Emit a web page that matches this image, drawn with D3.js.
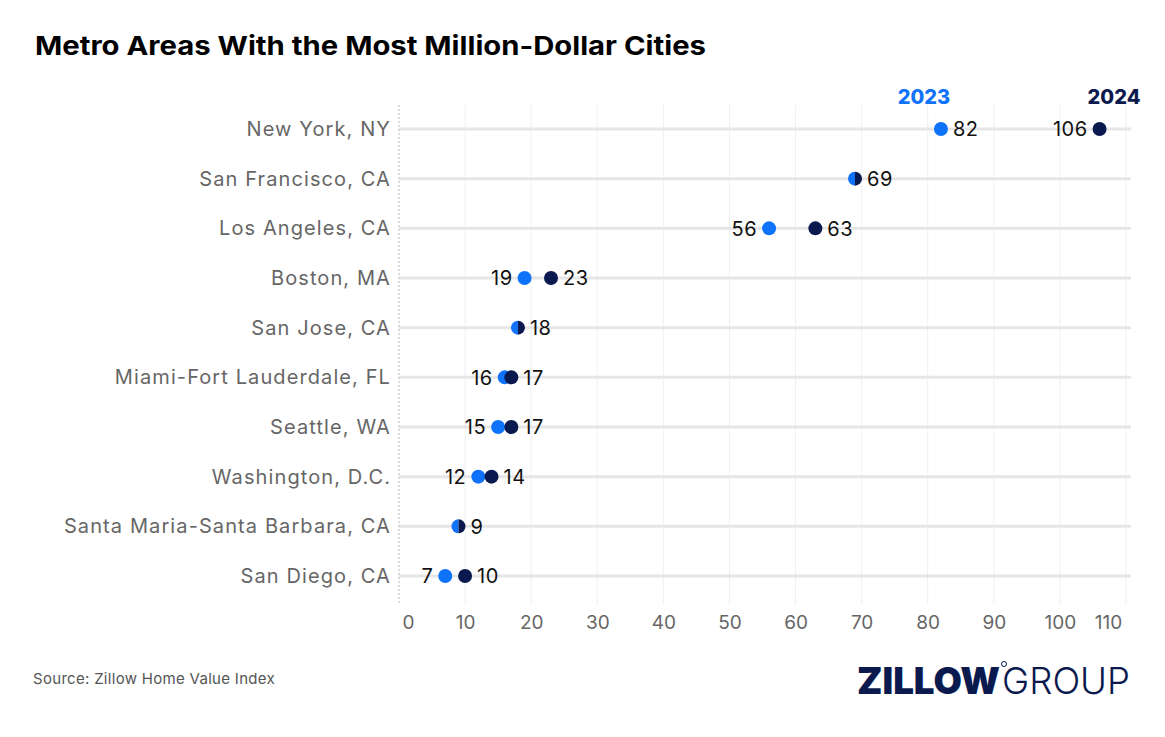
<!DOCTYPE html>
<html>
<head>
<meta charset="utf-8">
<script src="https://cdn.jsdelivr.net/npm/d3@7"></script>
<style>
  body { margin: 0; background: #fff; }
  text { font-family: Inter, "Noto Sans", sans-serif; }
</style>
</head>
<body>
<script>
// data
var metros = ["New York, NY", "San Francisco, CA", "Los Angeles, CA", "Boston, MA", "San Jose, CA",
    "Miami-Fort Lauderdale, FL", "Seattle, WA", "Washington, D.C.", "Santa Maria-Santa Barbara, CA", "San Diego, CA"];
var v2023 = [82, 69, 56, 19, 18, 16, 15, 12, 9, 7];
var v2024 = [106, 69, 63, 23, 18, 17, 17, 14, 9, 10];
var xTicks = [0, 10, 20, 30, 40, 50, 60, 70, 80, 90, 100, 110];
var years = ["2023", "2024"];

var w = 1165, h = 737;
var blue = "#0f72fb", navy = "#0a1a4f";

var svg = d3.select("body").append("svg")
    .attr("width", w)
    .attr("height", h);

var x = d3.scaleLinear().domain([0, 110]).range([399, 1126]);
var y = d3.scalePoint().domain(metros).range([129, 576]);

// vertical grid
svg.append("g").selectAll("line")
    .data(xTicks.slice(1))
    .enter().append("line")
    .attr("x1", function (d) { return x(d); })
    .attr("x2", function (d) { return x(d); })
    .attr("y1", 105)
    .attr("y2", 605)
    .style("stroke", "#f0f0f0")
    .style("stroke-width", 1);

// horizontal row lines
svg.append("g").selectAll("line")
    .data(metros)
    .enter().append("line")
    .attr("x1", 399)
    .attr("x2", 1131)
    .attr("y1", function (d) { return y(d); })
    .attr("y2", function (d) { return y(d); })
    .style("stroke", "#e6e6e6")
    .style("stroke-width", 3);

// dotted left axis
svg.append("line")
    .attr("x1", 399).attr("x2", 399)
    .attr("y1", 105).attr("y2", 605)
    .style("stroke", "#cfcfcf")
    .style("stroke-width", 1.5)
    .style("stroke-dasharray", "2,2");

// x axis labels
var xAxis = svg.append("g")
    .attr("transform", "translate(0,615)")
    .call(d3.axisBottom(x).tickValues(xTicks).tickSize(0).tickPadding(0));
xAxis.select(".domain").remove();
xAxis.selectAll("text")
    .style("font-size", "19px")
    .style("fill", "#666")
    .attr("dy", "0.71em")
    .attr("dx", function (d) { return d === 0 ? 9 : (d === 110 ? -18 : 0); });

// y labels
svg.append("g").selectAll("text")
    .data(metros)
    .enter().append("text")
    .attr("x", 391)
    .attr("y", function (d) { return y(d); })
    .attr("dy", "0.35em")
    .attr("text-anchor", "end")
    .style("font-size", "20px")
    .style("letter-spacing", "1.1px")
    .style("fill", "#666")
    .text(function (d) { return d; });

var r = 7;
var rows = metros.map(function (m, i) { return { m: m, a: v2023[i], b: v2024[i] }; });

var dots = svg.append("g");
rows.forEach(function (d) {
    var cy = y(d.m);
    if (d.a === d.b) {
        // half and half circle
        var cx = x(d.a);
        dots.append("path")
            .attr("d", d3.arc()({ innerRadius: 0, outerRadius: r, startAngle: Math.PI, endAngle: 2 * Math.PI }))
            .attr("transform", "translate(" + cx + "," + cy + ")")
            .style("fill", blue);
        dots.append("path")
            .attr("d", d3.arc()({ innerRadius: 0, outerRadius: r, startAngle: 0, endAngle: Math.PI }))
            .attr("transform", "translate(" + cx + "," + cy + ")")
            .style("fill", navy);
    } else {
        dots.append("circle").attr("cx", x(d.a)).attr("cy", cy).attr("r", r).style("fill", blue);
        dots.append("circle").attr("cx", x(d.b)).attr("cy", cy).attr("r", r).style("fill", navy);
    }
});

// value labels
var labels = svg.append("g");
function label(v, cy, side) {
    labels.append("text")
        .attr("x", side > 0 ? x(v) + 12 : x(v) - 12)
        .attr("y", cy)
        .attr("dy", "0.36em")
        .attr("text-anchor", side > 0 ? "start" : "end")
        .style("font-size", "20px")
        .style("letter-spacing", "0.5px")
        .style("fill", "#111")
        .text(v);
}
rows.forEach(function (d) {
    var cy = y(d.m);
    if (d.a === d.b) {
        label(d.b, cy, 1);
    } else if (d.b - d.a > 15) {
        // far apart: labels sit between the dots
        label(d.a, cy, 1);
        label(d.b, cy, -1);
    } else {
        label(d.a, cy, -1);
        label(d.b, cy, 1);
    }
});

// legend
svg.selectAll(".year")
    .data(years)
    .enter().append("text")
    .attr("class", "year")
    .attr("x", function (d, i) { return i === 0 ? 924 : 1114; })
    .attr("y", 104)
    .attr("text-anchor", "middle")
    .style("font-size", "20px")
    .style("font-weight", 800)
    .style("fill", function (d, i) { return i === 0 ? blue : navy; })
    .text(function (d) { return d; });

// title
svg.append("text")
    .attr("x", 35)
    .attr("y", 55)
    .attr("textLength", 671)
    .attr("lengthAdjust", "spacingAndGlyphs")
    .style("font-size", "26px")
    .style("font-weight", 700)
    .style("fill", "#000")
    .text("Metro Areas With the Most Million-Dollar Cities");

// source
svg.append("text")
    .attr("x", 33)
    .attr("y", 684)
    .style("font-size", "15px")
    .style("letter-spacing", "0.3px")
    .style("fill", "#555")
    .text("Source: Zillow Home Value Index");

// logo
var logo = svg.append("text")
    .attr("x", 857)
    .attr("y", 694)
    .style("font-size", "37px")
    .style("fill", navy);
logo.append("tspan")
    .style("font-weight", 900)
    .attr("textLength", 143)
    .attr("lengthAdjust", "spacingAndGlyphs")
    .text("ZILLOW");
logo.append("tspan")
    .style("font-weight", 300)
    .attr("dx", 2)
    .attr("textLength", 128)
    .attr("lengthAdjust", "spacingAndGlyphs")
    .text("GROUP");
svg.append("circle")
    .attr("cx", 1004).attr("cy", 664).attr("r", 2.5)
    .style("fill", "none").style("stroke", navy).style("stroke-width", 1);
</script>
</body>
</html>
